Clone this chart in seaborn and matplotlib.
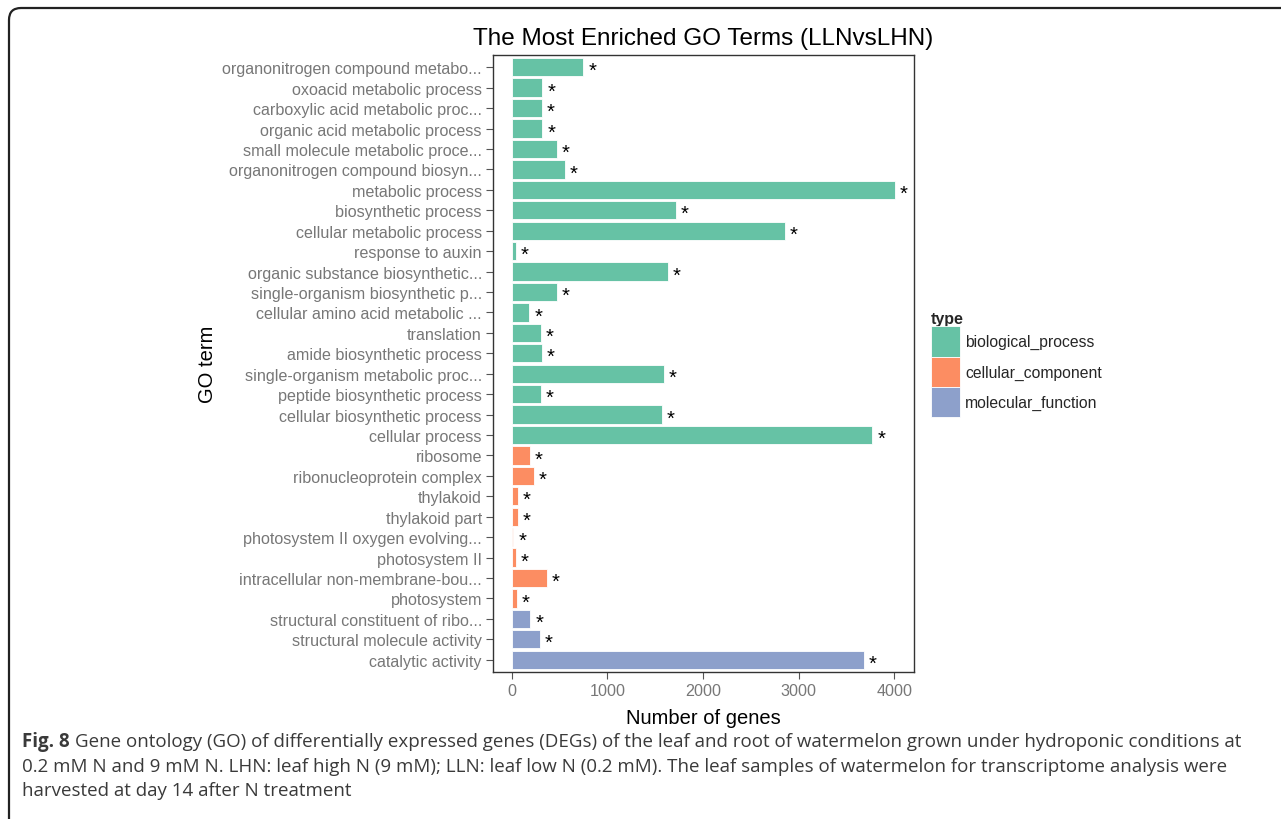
import matplotlib
matplotlib.use("Agg")
import matplotlib.pyplot as plt
from matplotlib.patches import Patch, FancyBboxPatch
from matplotlib.transforms import IdentityTransform
import seaborn as sns
import pandas as pd

# GO terms, top to bottom
terms = [
    "organonitrogen compound metabo...",
    "oxoacid metabolic process",
    "carboxylic acid metabolic proc...",
    "organic acid metabolic process",
    "small molecule metabolic proce...",
    "organonitrogen compound biosyn...",
    "metabolic process",
    "biosynthetic process",
    "cellular metabolic process",
    "response to auxin",
    "organic substance biosynthetic...",
    "single-organism biosynthetic p...",
    "cellular amino acid metabolic ...",
    "translation",
    "amide biosynthetic process",
    "single-organism metabolic proc...",
    "peptide biosynthetic process",
    "cellular biosynthetic process",
    "cellular process",
    "ribosome",
    "ribonucleoprotein complex",
    "thylakoid",
    "thylakoid part",
    "photosystem II oxygen evolving...",
    "photosystem II",
    "intracellular non-membrane-bou...",
    "photosystem",
    "structural constituent of ribo...",
    "structural molecule activity",
    "catalytic activity",
]

# gene counts per term
counts = [
    749, 320, 313, 320, 474, 554, 4008, 1714, 2857, 42,
    1634, 474, 184, 306, 317, 1593, 306, 1572, 3769,
    191, 233, 63, 63, 17, 42, 369, 55,
    195, 296, 3683,
]

# GO category of each term
types = (["biological_process"] * 19
         + ["cellular_component"] * 8
         + ["molecular_function"] * 3)

categories = ["biological_process", "cellular_component", "molecular_function"]
colors = ["#66c2a5", "#fc8d62", "#8da0cb"]

df = pd.DataFrame({"term": terms, "count": counts, "type": types})

sns.set_theme(style="white")
plt.rcParams["font.family"] = ["Liberation Sans", "DejaVu Sans"]

fig = plt.figure(figsize=(12.81, 8.2), dpi=100)
ax = fig.add_axes([0.3849, 0.1793, 0.3286, 0.7524])

palette = dict(zip(categories, colors))
sns.barplot(data=df, y="term", x="count", hue="type", hue_order=categories,
            palette=palette, dodge=False, width=0.9, orient="h",
            edgecolor="white", linewidth=0.6, saturation=1, legend=False, ax=ax)

# significance markers
for i, v in enumerate(counts):
    ax.annotate("*", xy=(v, i), xytext=(3.5, -2.5), textcoords="offset points",
                ha="left", va="center", fontsize=14.5, color="black")

ax.set_xlim(-196, 4205)
ax.set_ylim(len(terms) - 0.4, -0.6)
ax.set_xticks([0, 1000, 2000, 3000, 4000])

for s in ax.spines.values():
    s.set_visible(True)
    s.set_color("#333333")
    s.set_linewidth(1.0)

ax.tick_params(axis="both", which="both", length=5, width=0.8, color="#555555",
               labelcolor="#777777", labelsize=11.6, pad=3, left=True, bottom=True)
ax.grid(False)

ax.set_xlabel("Number of genes", fontsize=14.5, color="black", labelpad=7)
ax.set_ylabel("GO term", fontsize=14.5, color="black", labelpad=4)
ax.set_title("The Most Enriched GO Terms (LLNvsLHN)", fontsize=17.5, color="black", pad=8)

handles = [Patch(facecolor=c, edgecolor="white", linewidth=0.6) for c in colors]
leg = fig.legend(handles, categories, title="type", loc="upper left",
                 bbox_to_anchor=(0.722, 0.627), frameon=False, fontsize=11.3,
                 title_fontproperties={"weight": "bold", "size": 11.5},
                 handlelength=1.85, handleheight=2.6, handletextpad=0.3,
                 labelspacing=0.0, borderaxespad=0)
leg._legend_box.align = "left"

# caption below the chart
cap_font = ["Open Sans", "DejaVu Sans"]
cap_size = 13.5
cap_color = "#3a3a3a"
fig_w, fig_h = fig.get_size_inches() * fig.dpi
x0 = 22 / fig_w
y1 = 1 - 742 / fig_h
t_bold = fig.text(x0, y1, "Fig. 8", fontsize=cap_size, fontweight="bold", family=cap_font,
                  color=cap_color, va="center", ha="left")
fig.canvas.draw()
bb = t_bold.get_window_extent(renderer=fig.canvas.get_renderer())
fig.text(bb.x1 / fig_w + 5 / fig_w, y1,
         "Gene ontology (GO) of differentially expressed genes (DEGs) of the leaf and root of watermelon grown under hydroponic conditions at",
         fontsize=cap_size, family=cap_font, color=cap_color, va="center", ha="left")
fig.text(x0, 1 - 767 / fig_h,
         "0.2 mM N and 9 mM N. LHN: leaf high N (9 mM); LLN: leaf low N (0.2 mM). The leaf samples of watermelon for transcriptome analysis were",
         fontsize=cap_size, family=cap_font, color=cap_color, va="center", ha="left")
fig.text(x0, 1 - 791 / fig_h, "harvested at day 14 after N treatment",
         fontsize=cap_size, family=cap_font, color=cap_color, va="center", ha="left")

# outer frame with a rounded top-left corner (right and bottom run off the page)
frame = FancyBboxPatch((9, -60), 1400, fig_h - 9 + 60,
                       boxstyle="round,pad=0,rounding_size=12",
                       transform=IdentityTransform(), facecolor="none",
                       edgecolor="#222222", linewidth=1.6)
fig.patches.append(frame)

fig.savefig("out.png", dpi=100)
